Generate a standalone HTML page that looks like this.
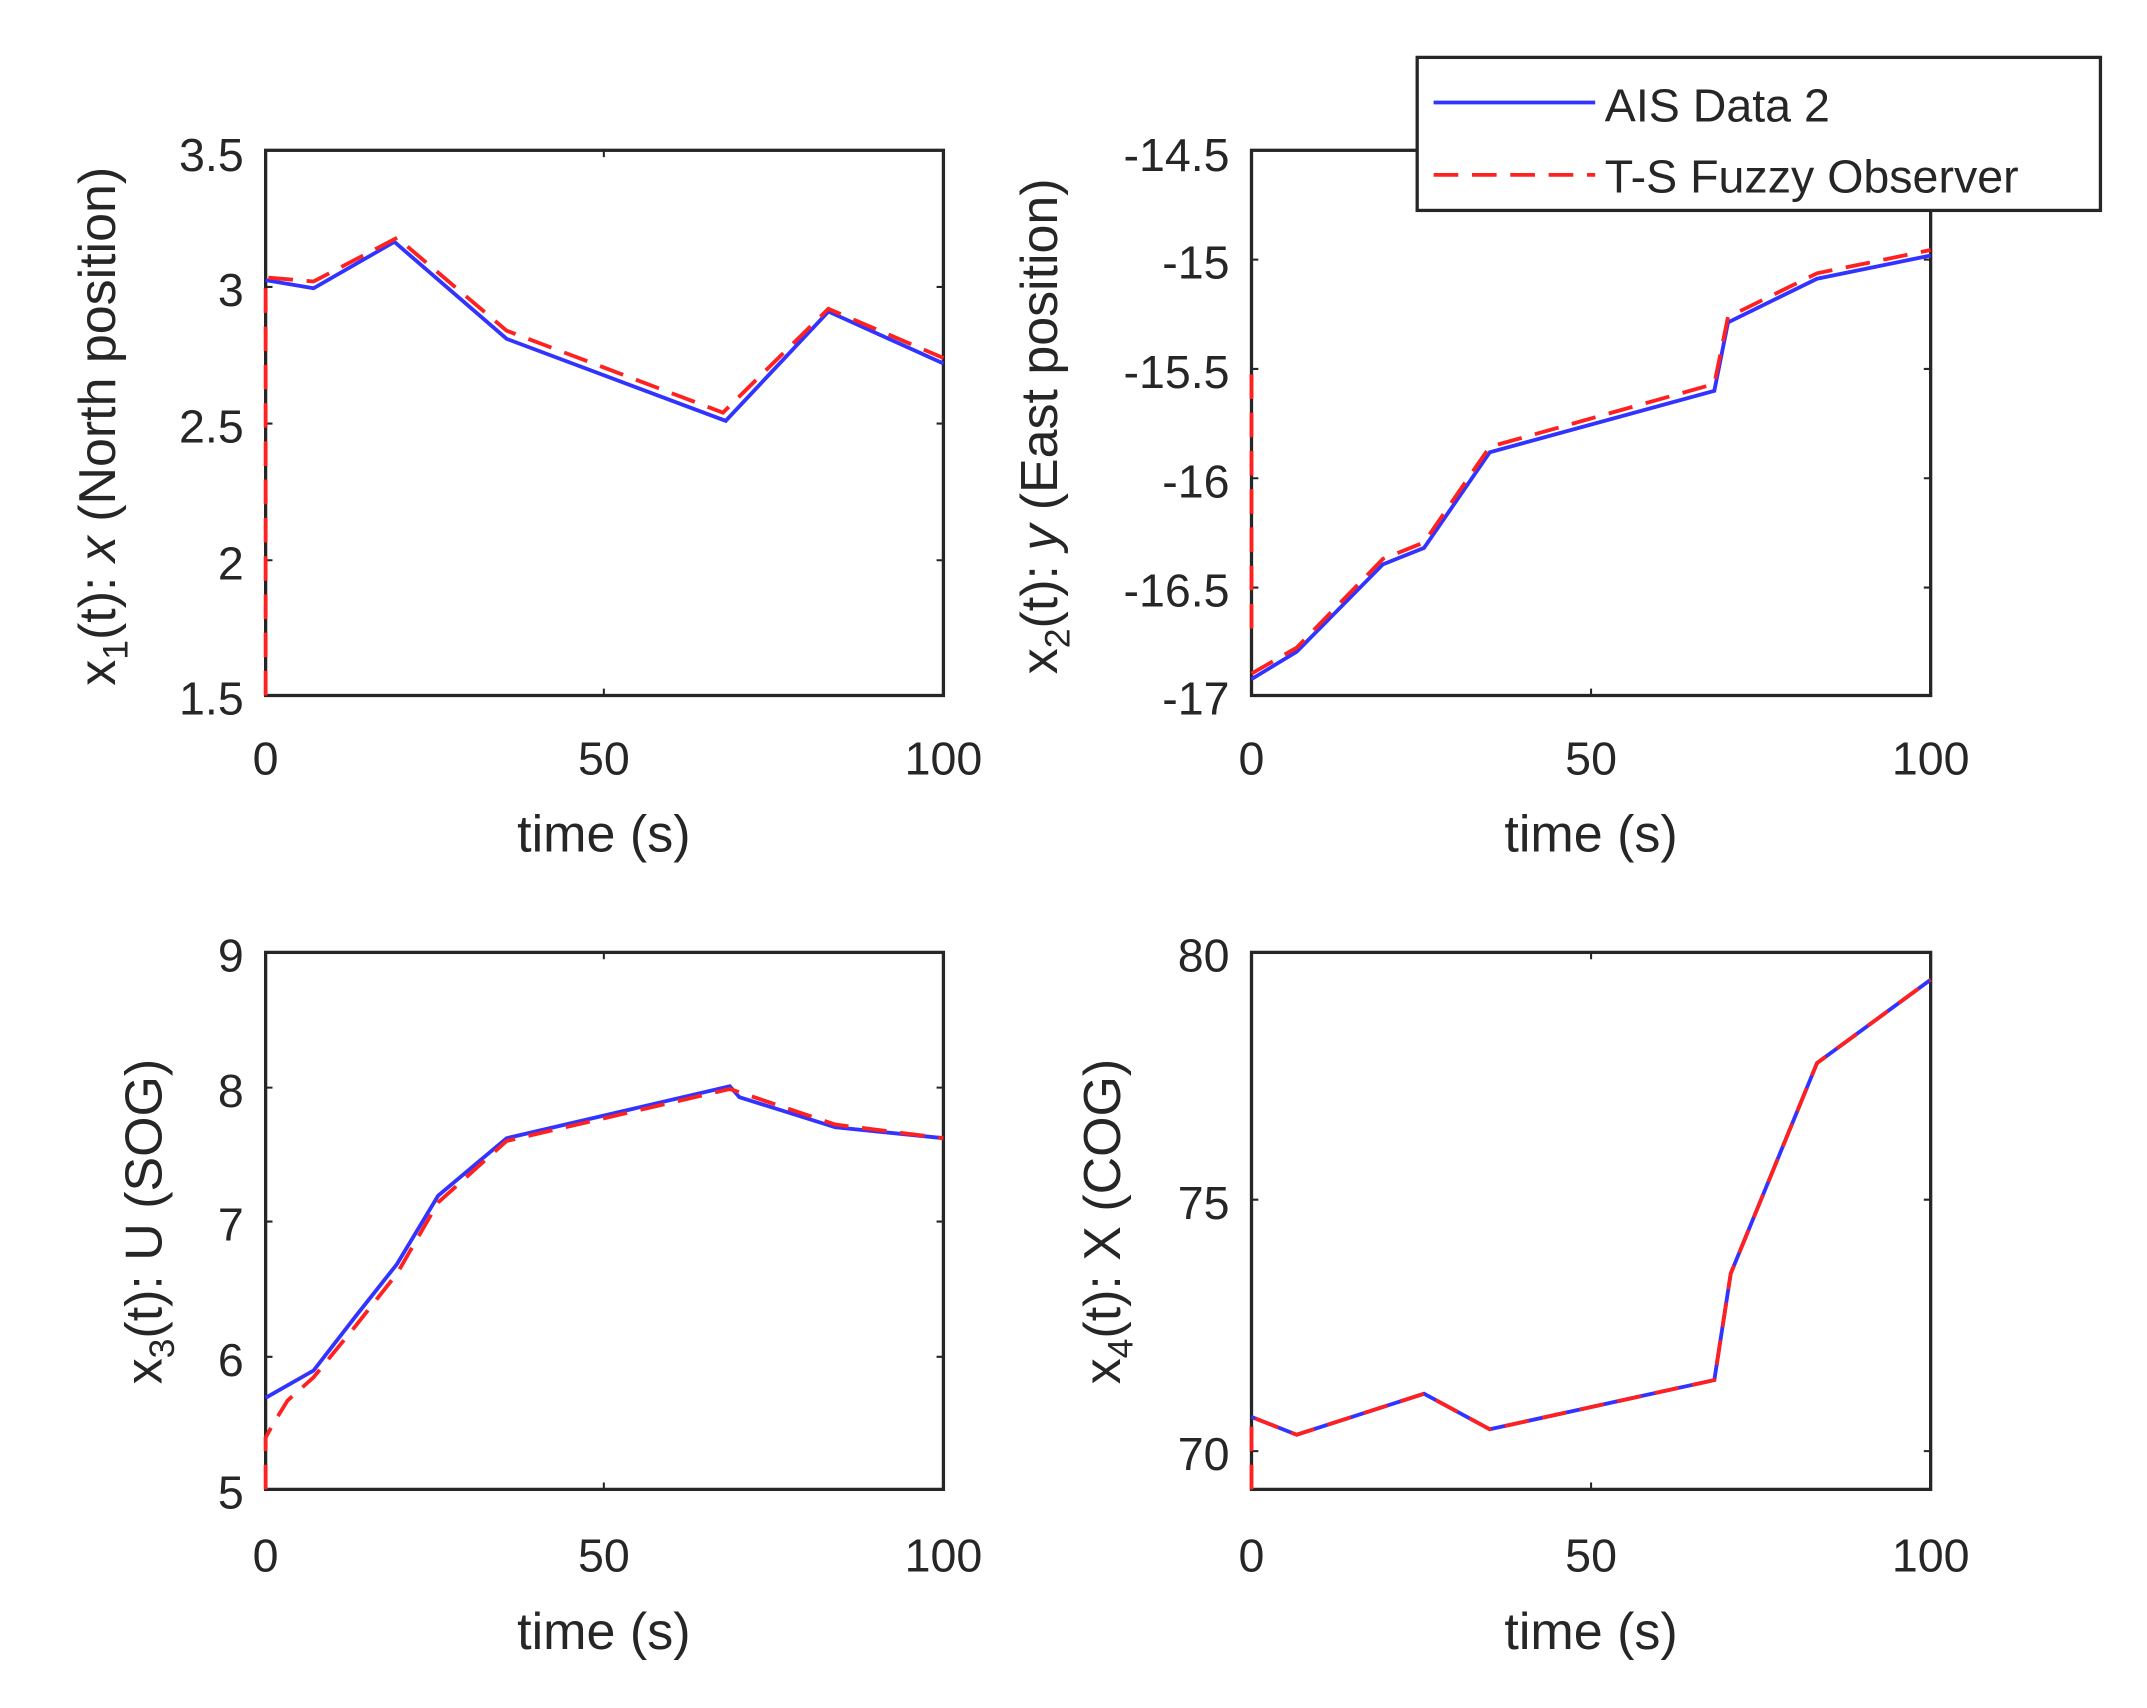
<!DOCTYPE html>
<html><head><style>
html,body{margin:0;padding:0;background:#fff;}
svg{display:block;}
text{font-family:"Liberation Sans",sans-serif;fill:#262626;}
</style></head><body>
<svg width="2147" height="1708" viewBox="0 0 1568 1250" preserveAspectRatio="none" xmlns="http://www.w3.org/2000/svg">
<g fill="none" stroke="#262626" stroke-width="2.4">
<rect x="194" y="110" width="495" height="399"/>
<rect x="914" y="110" width="496" height="399"/>
<rect x="194" y="697" width="495" height="393"/>
<rect x="914" y="697" width="496" height="393"/>
</g>
<g stroke="#262626" stroke-width="1.5">
<path d="M441,509v-5M441,110v5M194,210h5M194,310h5M194,410h5M689,210h-5M689,310h-5M689,410h-5"/>
<path d="M1162,509v-5M1162,110v5M914,190h5M914,270h5M914,350h5M914,430h5M1410,190h-5M1410,270h-5M1410,350h-5M1410,430h-5"/>
<path d="M441,1090v-5M441,697v5M194,796h5M194,894h5M194,993h5M689,796h-5M689,894h-5M689,993h-5"/>
<path d="M1162,1090v-5M1162,697v5M914,878h5M914,1062h5M1410,878h-5M1410,1062h-5"/>
</g>
<g font-size="34" text-anchor="end">
<text x="178" y="125">3.5</text><text x="178" y="224">3</text><text x="178" y="324">2.5</text><text x="178" y="424">2</text><text x="178" y="523">1.5</text>
<text x="898" y="125">-14.5</text><text x="898" y="204">-15</text><text x="898" y="284">-15.5</text><text x="898" y="364">-16</text><text x="898" y="444">-16.5</text><text x="898" y="523">-17</text>
<text x="178" y="711">9</text><text x="178" y="810">8</text><text x="178" y="908">7</text><text x="178" y="1007">6</text><text x="178" y="1104">5</text>
<text x="898" y="711">80</text><text x="898" y="892">75</text><text x="898" y="1076">70</text>
</g>
<g font-size="34" text-anchor="middle">
<text x="194" y="567">0</text><text x="441" y="567">50</text><text x="689" y="567">100</text>
<text x="914" y="567">0</text><text x="1162" y="567">50</text><text x="1410" y="567">100</text>
<text x="194" y="1150">0</text><text x="441" y="1150">50</text><text x="689" y="1150">100</text>
<text x="914" y="1150">0</text><text x="1162" y="1150">50</text><text x="1410" y="1150">100</text>
<text x="441" y="623" font-size="38">time (s)</text><text x="1162" y="623" font-size="38">time (s)</text>
<text x="441" y="1207" font-size="38">time (s)</text><text x="1162" y="1207" font-size="38">time (s)</text>
<text transform="translate(84,312) rotate(-90)" font-size="38">x<tspan font-size="26" dy="9">1</tspan><tspan dy="-9">(t): </tspan><tspan font-style="italic">x</tspan> (North position)</text>
<text transform="translate(772,312) rotate(-90)" font-size="38">x<tspan font-size="26" dy="9">2</tspan><tspan dy="-9">(t): </tspan><tspan font-style="italic">y</tspan> (East position)</text>
<text transform="translate(118,894) rotate(-90)" font-size="38">x<tspan font-size="26" dy="9">3</tspan><tspan dy="-9">(t): U (SOG)</tspan></text>
<text transform="translate(818,894) rotate(-90)" font-size="38">x<tspan font-size="26" dy="9">4</tspan><tspan dy="-9">(t): X (COG)</tspan></text>
</g>
<g fill="none" stroke-width="2.8">
<polyline stroke="#3333ff" points="194,205 229,211 288,177 370,248 530,308 605,228 689,266"/>
<polyline stroke="#ff2020" stroke-dasharray="18,10" points="194,509 194,203 229,206 290,174 370,242 528,302 535,295 605,226 689,262"/>
<polyline stroke="#3333ff" points="914,497 947,477 1010,413 1040,401 1088,331 1252,286 1262,236 1327,204 1410,187"/>
<polyline stroke="#ff2020" stroke-dasharray="18,10" points="914,460 914,265"/>
<polyline stroke="#ff2020" stroke-dasharray="18,10" points="914,493 947,474 1010,409 1040,397 1088,327 1252,281 1262,232 1327,200 1410,183"/>
<polyline stroke="#3333ff" points="194,1023 229,1003 260,963 290,925 320,875 370,833 533,795 540,803 610,825 689,833"/>
<polyline stroke="#ff2020" stroke-dasharray="18,10" points="194,1090 194,1052 199,1043 210,1025 229,1008 260,970 290,932 320,880 370,835 533,797 610,823 689,833"/>
<polyline stroke="#3333ff" points="914,1037 947,1050 1040,1020 1088,1046 1252,1010 1264,932 1327,778 1410,717"/>
<polyline stroke="#ff2020" stroke-dasharray="18,10" points="914,1090 914,1037 947,1050 1040,1020 1088,1046 1252,1010 1264,932 1327,778 1410,717"/>
</g>
<rect x="1035" y="42" width="499" height="112" fill="#fff" stroke="#262626" stroke-width="2.4"/>
<line x1="1047" y1="75" x2="1165" y2="75" stroke="#3333ff" stroke-width="2.8"/>
<line x1="1047" y1="128" x2="1165" y2="128" stroke="#ff2020" stroke-width="2.8" stroke-dasharray="18,10"/>
<text x="1172" y="89" font-size="34">AIS Data 2</text>
<text x="1172" y="141" font-size="34">T-S Fuzzy Observer</text>
</svg>
</body></html>
